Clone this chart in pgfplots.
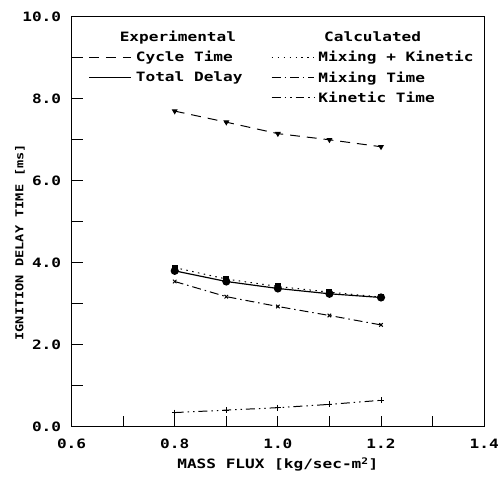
\documentclass[border=0pt]{standalone}
\usepackage{fontspec}
\setmainfont{DejaVu Sans Mono}[FakeStretch=1.25]
\usepackage{pgfplots}
\pgfplotsset{compat=1.18}
\begin{document}
\begin{tikzpicture}
\begin{axis}[
  scale only axis, width=415bp, height=412bp,
  xmin=0.6, xmax=1.4, ymin=0, ymax=10,
  xtick={0.6,0.8,1.0,1.2,1.4}, ytick={0,2,4,6,8,10},
  minor xtick={0.7,0.9,1.1,1.3}, minor ytick={1,3,5,7,9},
  xticklabel style={yshift=-9bp, /pgf/number format/.cd, fixed, fixed zerofill, precision=1},
  yticklabel style={xshift=-7bp, /pgf/number format/.cd, fixed, fixed zerofill, precision=1},
  /pgf/number format/assume math mode=true,
  tick align=inside, tick pos=left,
  major tick length=11bp, minor tick length=11bp,
  every tick/.style={black, line width=0.9pt},
  axis line style={line width=0.9pt},
  font=\bfseries\fontsize{13}{15}\selectfont,
  xlabel={MASS FLUX [kg/sec-m\textsuperscript{2}]},
  xlabel style={at={(axis description cs:0.5,-0.093)}, anchor=center},
  ylabel={IGNITION DELAY TIME [ms]},
  ylabel style={at={(axis description cs:-0.125,0.45)}, anchor=center, font=\bfseries\fontsize{11}{13}\selectfont},
  legend columns=2,
  legend style={draw=none, fill=none, at={(axis description cs:0.51,0.976)}, anchor=north,
    font=\bfseries\fontsize{13}{14}\selectfont,
    row sep=4.5pt, /tikz/every even column/.append style={column sep=27pt}},
  legend cell align=left,
  legend image code/.code={\draw[#1] (0cm,0cm) -- (1.5cm,0cm);},
]
\addplot[black, line width=1pt, dash pattern=on 10pt off 7pt, mark=triangle*, mark size=2.5, mark options={solid, rotate=180}, forget plot]
  coordinates {(0.8,7.70) (0.9,7.43) (1.0,7.15) (1.1,7.00) (1.2,6.83)};
\addplot[black, line width=1pt, dash pattern=on 1.5pt off 4.5pt, mark=square*, mark size=2.5, mark options={solid}, forget plot]
  coordinates {(0.8,3.88) (0.9,3.60) (1.0,3.42) (1.1,3.28) (1.2,3.16)};
\addplot[black, line width=1.2pt, mark=*, mark size=3.5, forget plot]
  coordinates {(0.8,3.80) (0.9,3.54) (1.0,3.37) (1.1,3.24) (1.2,3.15)};
\addplot[black, line width=1pt, dash pattern=on 9pt off 4pt on 1.5pt off 4pt, mark=x, mark size=2.5, mark options={solid}, forget plot]
  coordinates {(0.8,3.54) (0.9,3.17) (1.0,2.93) (1.1,2.71) (1.2,2.48)};
\addplot[black, line width=1pt, dash pattern=on 9pt off 4pt on 1.5pt off 4pt on 1.5pt off 4pt, mark=+, mark size=3, mark options={solid}, forget plot]
  coordinates {(0.8,0.34) (0.9,0.40) (1.0,0.46) (1.1,0.54) (1.2,0.64)};
\addlegendimage{empty legend}
\addlegendentry{\hspace*{-1.1em}Experimental}
\addlegendimage{empty legend}
\addlegendentry{\hspace*{0.6em}Calculated}
\addlegendimage{black, line width=1pt, dash pattern=on 10pt off 7pt}
\addlegendentry{\hspace*{2pt}Cycle Time}
\addlegendimage{black, line width=1pt, dash pattern=on 1.5pt off 4.5pt}
\addlegendentry{\hspace*{2pt}Mixing + Kinetic}
\addlegendimage{black, line width=1.2pt}
\addlegendentry{\hspace*{2pt}Total Delay}
\addlegendimage{black, line width=1pt, dash pattern=on 9pt off 4pt on 1.5pt off 4pt}
\addlegendentry{\hspace*{2pt}Mixing Time}
\addlegendimage{empty legend}
\addlegendentry{}
\addlegendimage{black, line width=1pt, dash pattern=on 9pt off 4pt on 1.5pt off 4pt on 1.5pt off 4pt}
\addlegendentry{\hspace*{2pt}Kinetic Time}
\end{axis}
\path (current axis.south west) ++(-72bp,-54bp);
\path (current axis.north east) ++(15bp,17bp);
\end{tikzpicture}
\end{document}
